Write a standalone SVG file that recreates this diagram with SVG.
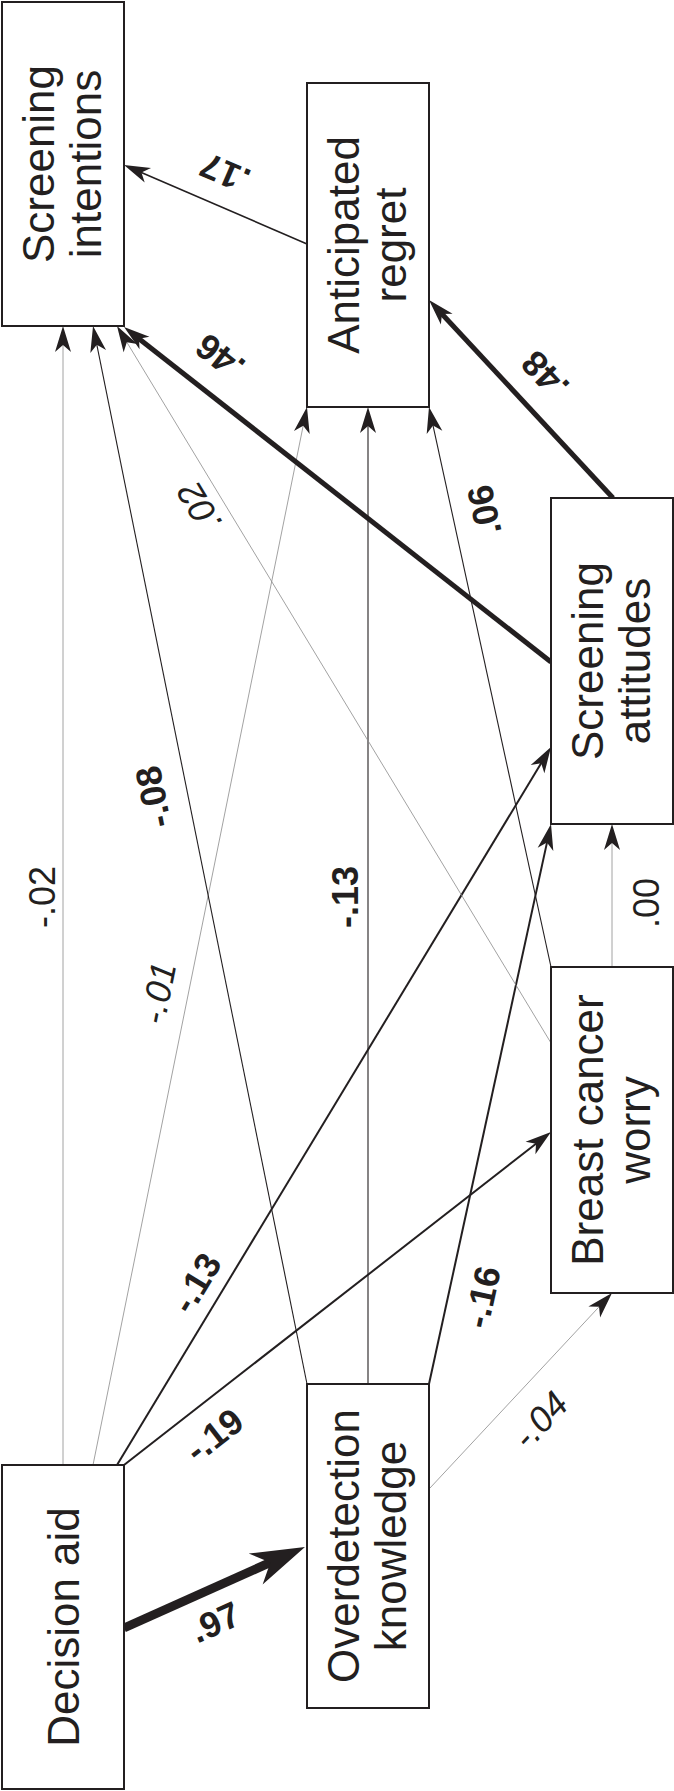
<svg xmlns="http://www.w3.org/2000/svg" width="674" height="1791" viewBox="0 0 674 1791">
<style>
.box{fill:#fff;stroke:#231f20;stroke-width:2}
.nt{font-family:"Liberation Sans",Arial,Helvetica,sans-serif;font-size:44px;fill:#231f20;text-anchor:middle}
.lb{font-family:"Liberation Sans",Arial,Helvetica,sans-serif;font-size:36px;fill:#231f20;text-anchor:middle}
.b{font-weight:bold}
.i{font-style:italic}
.c{fill:none;stroke:#231f20;marker-end:url(#ah)}
.w0{stroke:#8a8a8a;stroke-width:0.8}
.w1{stroke-width:1.1}
.w15{stroke-width:1.6}
.w2{stroke-width:2}
.w5{stroke-width:5}
.w9{stroke-width:9;marker-end:url(#ahb)}
</style>
<defs>
<marker id="ah" markerUnits="userSpaceOnUse" orient="auto" refX="2" refY="0" markerWidth="30" markerHeight="20" overflow="visible">
<path d="M19,0 L-7,-8 L0,0 L-7,8 Z" fill="#231f20"/>
</marker>
<marker id="ahb" markerUnits="userSpaceOnUse" orient="auto" refX="2" refY="0" markerWidth="60" markerHeight="40" overflow="visible">
<path d="M38,0 L-16,-17 L0,0 L-16,17 Z" fill="#231f20"/>
</marker>
</defs>
<rect width="674" height="1791" fill="#fff"/>
<g id="connectors">
<g id="e-da-si"><line class="c w0" x1="63" y1="1465" x2="63" y2="343"/><text class="lb" transform="translate(42,897) rotate(-90)" dy="0.35em">-.02</text></g>
<g id="e-da-ar"><line class="c w0" x1="93" y1="1465" x2="303.6" y2="423.7"/><text class="lb i" transform="translate(158,993) rotate(-78.6)" dy="0.35em">-.01</text></g>
<g id="e-da-sa"><line class="c w2" x1="117" y1="1465" x2="542.2" y2="761.5"/><text class="lb b" transform="translate(196,1283) rotate(-58.9)" dy="0.35em">-.13</text></g>
<g id="e-da-bcw"><line class="c w2" x1="124" y1="1465" x2="537.6" y2="1142.5"/><text class="lb b" transform="translate(214,1435) rotate(-38)" dy="0.35em">-.19</text></g>
<g id="e-da-od"><line class="c w9" x1="124" y1="1628" x2="272.1" y2="1561.7"/><text class="lb b" transform="translate(215,1622) rotate(-24.1)" dy="0.35em">.97</text></g>
<g id="e-od-si"><line class="c w1" x1="307" y1="1384" x2="96.4" y2="342.7"/><text class="lb b" transform="translate(153,797) rotate(-101.4)" dy="0.35em">-.08</text></g>
<g id="e-od-ar"><line class="c w1" x1="368" y1="1384" x2="368" y2="424"/><text class="lb b" transform="translate(345,897) rotate(-90)" dy="0.35em">-.13</text></g>
<g id="e-od-sa"><line class="c w2" x1="429" y1="1384" x2="547.4" y2="840.6"/><text class="lb b" transform="translate(482,1297) rotate(-77.7)" dy="0.35em">-.16</text></g>
<g id="e-od-bcw"><line class="c w0" x1="430" y1="1488" x2="600.4" y2="1305.4"/><text class="lb i" transform="translate(540,1420) rotate(-47)" dy="0.35em">-.04</text></g>
<g id="e-bcw-si"><line class="c w0" x1="551" y1="1043" x2="125.8" y2="340.5"/><text class="lb i" transform="translate(199,507) rotate(-121.1)" dy="0.35em">.02</text></g>
<g id="e-bcw-ar"><line class="c w1" x1="551" y1="967" x2="432.6" y2="423.6"/><text class="lb b" transform="translate(484,510) rotate(-102.3)" dy="0.35em">.06</text></g>
<g id="e-bcw-sa"><line class="c w0" x1="612" y1="967" x2="612" y2="841"/><text class="lb" transform="translate(646,903) rotate(-90)" dy="0.35em">.00</text></g>
<g id="e-sa-si"><line class="c w5" x1="551" y1="662" x2="137.4" y2="337.5"/><text class="lb b" transform="translate(220,357) rotate(-141.9)" dy="0.35em">.46</text></g>
<g id="e-sa-ar"><line class="c w5" x1="613" y1="498" x2="440.6" y2="312.5"/><text class="lb b" transform="translate(545,375) rotate(-132.9)" dy="0.35em">.48</text></g>
<g id="e-ar-si"><line class="c w15" x1="307" y1="244" x2="139.6" y2="171.7"/><text class="lb b" transform="translate(225,173) rotate(-156.6)" dy="0.35em">.17</text></g>
</g>
<g id="n-si"><rect class="box" x="2" y="2" width="122" height="324"/><text class="nt" transform="translate(0,164) rotate(-90)"><tspan x="0" y="54">Screening</tspan><tspan x="0" y="101">intentions</tspan></text></g>
<g id="n-ar"><rect class="box" x="307" y="83" width="122" height="324"/><text class="nt" transform="translate(0,245) rotate(-90)"><tspan x="0" y="359">Anticipated</tspan><tspan x="0" y="406">regret</tspan></text></g>
<g id="n-sa"><rect class="box" x="551" y="498" width="122" height="326"/><text class="nt" transform="translate(0,661) rotate(-90)"><tspan x="0" y="603">Screening</tspan><tspan x="0" y="650">attitudes</tspan></text></g>
<g id="n-bcw"><rect class="box" x="551" y="967" width="122" height="326"/><text class="nt" transform="translate(0,1130) rotate(-90)"><tspan x="0" y="603">Breast cancer</tspan><tspan x="0" y="650">worry</tspan></text></g>
<g id="n-od"><rect class="box" x="307" y="1384" width="122" height="324"/><text class="nt" transform="translate(0,1546) rotate(-90)"><tspan x="0" y="359">Overdetection</tspan><tspan x="0" y="406">knowledge</tspan></text></g>
<g id="n-da"><rect class="box" x="2" y="1465" width="122" height="324"/><text class="nt" transform="translate(0,1627) rotate(-90)"><tspan x="0" y="79">Decision aid</tspan></text></g>
</svg>
